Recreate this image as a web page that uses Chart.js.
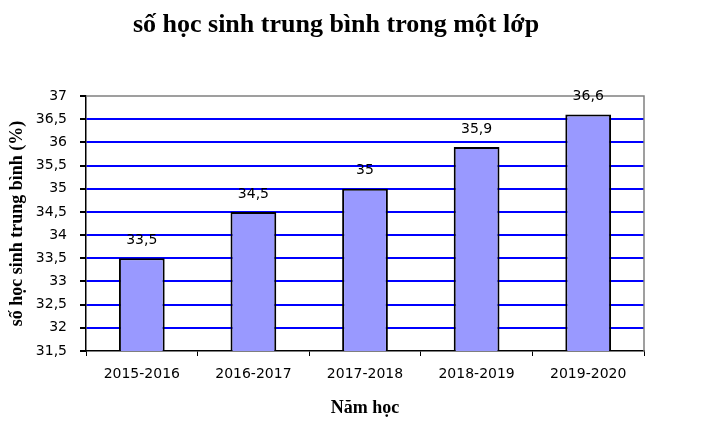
<!DOCTYPE html>
<html>
<head>
<meta charset="utf-8">
<script src="https://cdn.jsdelivr.net/npm/chart.js@4"></script>
<style>
  html, body { margin: 0; padding: 0; background: #fff; }
  #wrap { width: 709px; height: 431px; }
</style>
</head>
<body>
<div id="wrap"><canvas id="hsChart" width="709" height="431"></canvas></div>
<script>
// data
const schoolYears = ['2015-2016', '2016-2017', '2017-2018', '2018-2019', '2019-2020'];
const avgStudents = [33.5, 34.5, 35, 35.9, 36.6];
const yMin = 31.5;
const yMax = 37;
const yStep = 0.5;
const chartTitle = 'số học sinh trung bình trong một lớp';

const fmt = v => String(Math.round(v * 10) / 10).replace('.', ',');

// frame, title + value labels
const decorPlugin = {
    id: 'decor',
    beforeDatasetsDraw(chart) {
        const { ctx, chartArea: a } = chart;
        ctx.save();
        ctx.strokeStyle = '#808080';
        ctx.lineWidth = 1.5;
        ctx.beginPath();
        ctx.moveTo(a.left, a.top);
        ctx.lineTo(a.right, a.top);
        ctx.lineTo(a.right, a.bottom);
        ctx.stroke();
        ctx.restore();
    },
    afterDatasetsDraw(chart) {
        const { ctx } = chart;
        const meta = chart.getDatasetMeta(0);
        ctx.save();
        ctx.fillStyle = '#000';
        ctx.font = '14px "DejaVu Sans"';
        ctx.textAlign = 'center';
        ctx.textBaseline = 'middle';
        meta.data.forEach((bar, i) => {
            ctx.fillText(fmt(avgStudents[i]), bar.x, bar.y - 18);
        });
        // title sits a bit right of the canvas centre, like the original
        ctx.font = 'bold 26px "Liberation Serif"';
        ctx.fillText(chartTitle, 336, 25);
        ctx.restore();
    }
};

const ctx = document.getElementById('hsChart').getContext('2d');
const hsChart = new Chart(ctx, {
    type: 'bar',
    data: {
        labels: schoolYears,
        datasets: [{
            data: avgStudents,
            backgroundColor: '#9999FF',
            borderColor: '#000000',
            borderWidth: 2,
            borderSkipped: false,
            categoryPercentage: 1,
            barPercentage: 0.41
        }]
    },
    options: {
        responsive: false,
        animation: false,
        devicePixelRatio: 1,
        layout: { padding: { left: 0, right: 65, bottom: 0, top: 96 } },
        plugins: {
            legend: { display: false },
            tooltip: { enabled: false },
            title: { display: false }
        },
        scales: {
            x: {
                grid: {
                    display: true,
                    drawOnChartArea: false,
                    tickLength: 5,
                    tickColor: '#000',
                    offset: true
                },
                border: { color: '#000', width: 1.5 },
                ticks: {
                    color: '#000',
                    font: { family: '"DejaVu Sans"', size: 14 },
                    padding: 10,
                    maxRotation: 0
                },
                title: {
                    display: true,
                    text: 'Năm học',
                    color: '#000',
                    font: { family: '"Liberation Serif"', size: 18, weight: 'bold' },
                    padding: { top: 0, bottom: 12 }
                },
                afterFit(scale) { scale.height = 80; }
            },
            y: {
                min: yMin,
                max: yMax,
                grid: {
                    color: ctx => (ctx.tick && (ctx.tick.value >= yMax || ctx.tick.value <= yMin)) ? 'rgba(0,0,0,0)' : '#0000FF',
                    lineWidth: 2,
                    tickLength: 6,
                    tickColor: '#000'
                },
                border: { color: '#000', width: 1.5 },
                ticks: {
                    stepSize: yStep,
                    color: '#000',
                    font: { family: '"DejaVu Sans"', size: 14 },
                    padding: 13,
                    callback: v => fmt(v)
                },
                title: {
                    display: true,
                    text: 'số học sinh trung bình (%)',
                    color: '#000',
                    font: { family: '"Liberation Serif"', size: 18, weight: 'bold' },
                    padding: { top: 7, bottom: 0 }
                },
                afterFit(scale) { scale.width = 86; }
            }
        }
    },
    plugins: [decorPlugin]
});
</script>
</body>
</html>
